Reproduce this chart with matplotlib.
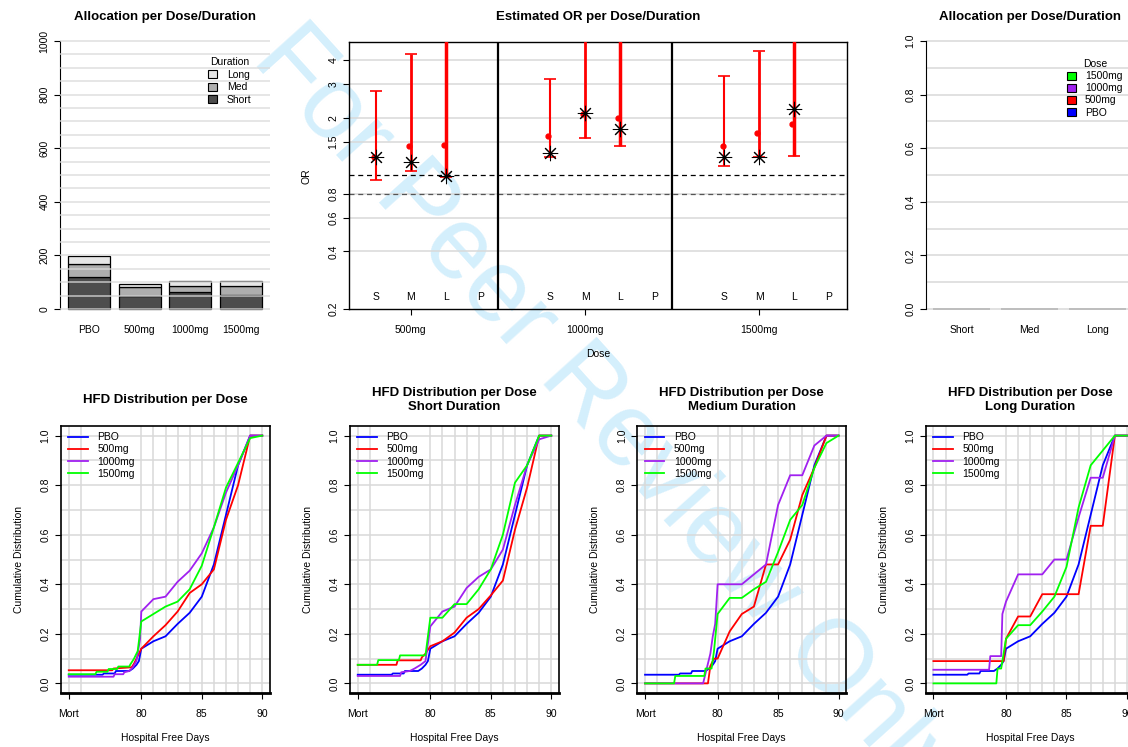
import matplotlib
matplotlib.use("Agg")
import matplotlib.pyplot as plt
from matplotlib.patches import Patch
from matplotlib.lines import Line2D

plt.rcParams['font.family'] = ['Liberation Sans', 'DejaVu Sans']
plt.rcParams['font.size'] = 7.5

W, H = 1128, 747

# ---- allocation per dose / duration (top left) ----
alloc_doses = ["PBO", "500mg", "1000mg", "1500mg"]
alloc_short = [121, 48, 64, 52]
alloc_med = [46, 33, 23, 32]
alloc_long = [30, 11, 19, 19]
dur_colors = ["#4D4D4D", "#AEAEAE", "#E6E6E6"]

# ---- allocation per duration (top right, all zero) ----
alloc_durations = ["Short", "Med", "Long"]
alloc_dur_values = [0.0, 0.0, 0.0]

# ---- estimated OR ----
or_doses = ["500mg", "1000mg", "1500mg"]
or_durs = ["S", "M", "L", "P"]
or_est = [[1.24, 1.17, 0.99], [1.31, 2.13, 1.75], [1.25, 1.25, 2.22]]
or_mid = [[1.25, 1.43, 1.44], [1.60, 2.10, 2.00], [1.43, 1.67, 1.86]]
or_lo = [[0.94, 1.06, 0.98], [1.25, 1.56, 1.42], [1.12, 1.25, 1.26]]
or_hi = [[2.77, 4.32, 8.0], [3.18, 8.0, 8.0], [3.30, 4.46, 8.0]]
or_lw = [1.5, 2.0, 2.5]

# ---- HFD cumulative distributions ----
dose_names = ["PBO", "500mg", "1000mg", "1500mg"]
dose_colors = ["#0000FF", "#FF0000", "#A020F0", "#00FF00"]

pbo_x = [74, 76.8, 76.9, 77.8, 77.9, 79.0, 79.3, 79.6, 79.8, 80, 81, 82, 83, 84, 85, 86, 87, 88, 89, 90]
pbo_y = [0.035, 0.035, 0.04, 0.04, 0.05, 0.05, 0.06, 0.075, 0.09, 0.14, 0.17, 0.19, 0.24, 0.285, 0.35, 0.48, 0.68, 0.88, 1.0, 1.0]

all_500_x = [74, 77.6, 77.7, 79.2, 79.4, 79.7, 80, 81, 82, 83, 84, 85, 86, 87, 88, 89, 90]
all_500_y = [0.053, 0.053, 0.06, 0.065, 0.08, 0.11, 0.14, 0.19, 0.235, 0.29, 0.365, 0.40, 0.46, 0.66, 0.80, 1.0, 1.0]
all_1000_x = [74, 77.7, 77.8, 78.5, 78.6, 79.0, 79.3, 79.6, 79.9, 80, 81, 82, 83, 84, 85, 86, 87, 88, 89, 90]
all_1000_y = [0.027, 0.027, 0.037, 0.037, 0.045, 0.05, 0.065, 0.09, 0.18, 0.29, 0.34, 0.35, 0.41, 0.455, 0.525, 0.63, 0.77, 0.88, 1.0, 1.0]
all_1500_x = [74, 76.2, 76.3, 77.2, 77.3, 78.0, 78.1, 79.0, 79.1, 79.4, 79.7, 80, 81, 82, 83, 84, 85, 86, 87, 88, 89, 90]
all_1500_y = [0.037, 0.037, 0.047, 0.047, 0.058, 0.058, 0.068, 0.068, 0.077, 0.10, 0.13, 0.25, 0.28, 0.31, 0.33, 0.38, 0.475, 0.63, 0.79, 0.89, 0.99, 1.0]

short_500_x = [74, 77.2, 77.3, 79.2, 79.3, 79.6, 80, 81, 82, 83, 84, 85, 86, 87, 88, 89, 90]
short_500_y = [0.075, 0.075, 0.093, 0.093, 0.105, 0.12, 0.15, 0.17, 0.205, 0.265, 0.30, 0.355, 0.415, 0.62, 0.79, 1.0, 1.0]
short_1000_x = [74, 77.5, 77.6, 78.3, 78.7, 79.2, 79.6, 80, 81, 82, 83, 84, 85, 86, 87, 88, 89, 90]
short_1000_y = [0.03, 0.03, 0.045, 0.05, 0.06, 0.075, 0.09, 0.23, 0.29, 0.31, 0.385, 0.43, 0.46, 0.54, 0.72, 0.88, 0.985, 1.0]
short_1500_x = [74, 75.6, 75.7, 77.4, 77.5, 79.6, 80, 81, 82, 83, 84, 85, 86, 87, 88, 89, 90]
short_1500_y = [0.075, 0.075, 0.094, 0.094, 0.113, 0.113, 0.265, 0.265, 0.32, 0.32, 0.38, 0.46, 0.60, 0.81, 0.88, 1.0, 1.0]

med_500_x = [74, 79.2, 79.4, 79.7, 80, 81, 82, 83, 84, 85, 86, 87, 88, 89, 90]
med_500_y = [0, 0, 0.07, 0.10, 0.10, 0.21, 0.28, 0.31, 0.48, 0.48, 0.58, 0.76, 0.87, 1.0, 1.0]
med_1000_x = [74, 78.8, 79.0, 79.2, 79.4, 79.6, 79.8, 80, 81, 82, 83, 84, 85, 86, 87, 88, 89, 90]
med_1000_y = [0, 0, 0.04, 0.08, 0.12, 0.19, 0.24, 0.40, 0.40, 0.40, 0.44, 0.48, 0.72, 0.84, 0.84, 0.96, 1.0, 1.0]
med_1500_x = [74, 76.4, 76.5, 78.9, 79.0, 79.5, 79.7, 80, 81, 82, 83, 84, 85, 86, 87, 88, 89, 90]
med_1500_y = [0, 0, 0.03, 0.03, 0.06, 0.06, 0.13, 0.28, 0.345, 0.345, 0.38, 0.41, 0.53, 0.66, 0.72, 0.87, 0.97, 1.0]

long_500_x = [74, 79.8, 80, 81, 82, 83, 84, 85, 86, 87, 88, 89, 90]
long_500_y = [0.09, 0.09, 0.18, 0.27, 0.27, 0.36, 0.36, 0.36, 0.36, 0.636, 0.636, 1.0, 1.0]
long_1000_x = [74, 78.6, 78.7, 79.6, 79.7, 80, 81, 82, 83, 84, 85, 86, 87, 88, 89, 90]
long_1000_y = [0.055, 0.055, 0.11, 0.11, 0.28, 0.33, 0.44, 0.44, 0.44, 0.5, 0.5, 0.67, 0.83, 0.83, 1.0, 1.0]
long_1500_x = [74, 79.2, 79.3, 79.6, 80, 81, 82, 83, 84, 85, 86, 87, 88, 89, 90]
long_1500_y = [0, 0, 0.06, 0.06, 0.18, 0.235, 0.235, 0.29, 0.35, 0.47, 0.71, 0.88, 0.94, 1.0, 1.0]

hfd_titles = ["HFD Distribution per Dose",
              "HFD Distribution per Dose\nShort Duration",
              "HFD Distribution per Dose\nMedium Duration",
              "HFD Distribution per Dose\nLong Duration"]
hfd_curves = [
    [(pbo_x, pbo_y), (all_500_x, all_500_y), (all_1000_x, all_1000_y), (all_1500_x, all_1500_y)],
    [(pbo_x, pbo_y), (short_500_x, short_500_y), (short_1000_x, short_1000_y), (short_1500_x, short_1500_y)],
    [(pbo_x, pbo_y), (med_500_x, med_500_y), (med_1000_x, med_1000_y), (med_1500_x, med_1500_y)],
    [(pbo_x, pbo_y), (long_500_x, long_500_y), (long_1000_x, long_1000_y), (long_1500_x, long_1500_y)],
]
hfd_ticks = [74, 80, 85, 90]
hfd_ticklabels = ["Mort", "80", "85", "90"]
hfd_vgrid = [74, 75, 80, 81, 82, 83, 84, 85, 86, 87, 88, 89, 90]

GRID = "#D9D9D9"


def frame(l, t, r, b):
    return [l / W, 1 - b / H, (r - l) / W, (b - t) / H]


def fig_text(x, y, s, **kw):
    fig.text(x / W, 1 - y / H, s, ha="center", va="center", **kw)


def r_ticks(ax):
    ax.tick_params(direction="out", length=4.5, width=0.8, pad=3, colors="black")
    ax.tick_params(axis="y", labelrotation=90)
    for lab in ax.get_yticklabels():
        lab.set_va("center")


fig = plt.figure(figsize=(W / 100, H / 100), dpi=100)
# reviewer watermark, behind everything
fig_text(606, 416, "For Peer Review Only", fontsize=74, color="#D4EFFC",
         rotation=-48, rotation_mode="anchor", zorder=-5)

# ---------------- top left: stacked bars ----------------
ax = fig.add_axes(frame(60, 30.3, 270, 319.7))
ax.patch.set_alpha(0)
xs = [0.7 + 1.2 * i for i in range(len(alloc_doses))]
bottom_med = alloc_short
bottom_long = [a + b for a, b in zip(alloc_short, alloc_med)]
ax.bar(xs, alloc_short, width=1, color=dur_colors[0], edgecolor="black", linewidth=0.9, zorder=2)
ax.bar(xs, alloc_med, width=1, bottom=bottom_med, color=dur_colors[1], edgecolor="black", linewidth=0.9, zorder=2)
ax.bar(xs, alloc_long, width=1, bottom=bottom_long, color=dur_colors[2], edgecolor="black", linewidth=0.9, zorder=2)
for g in range(0, 1001, 50):
    ax.axhline(g, color=GRID, lw=1.1, zorder=3, alpha=0.85)
ax.set_xlim(0.016, 4.984)
ax.set_ylim(-40, 1040)
for s in ["top", "right", "bottom"]:
    ax.spines[s].set_visible(False)
ax.spines["left"].set_bounds(0, 1000)
ax.set_yticks(range(0, 1001, 200))
ax.set_xticks(xs)
ax.set_xticklabels(alloc_doses)
r_ticks(ax)
ax.tick_params(axis="x", length=0, pad=4)
ax.legend(handles=[Patch(facecolor=dur_colors[2], edgecolor="black", lw=0.8, label="Long"),
                   Patch(facecolor=dur_colors[1], edgecolor="black", lw=0.8, label="Med"),
                   Patch(facecolor=dur_colors[0], edgecolor="black", lw=0.8, label="Short")],
          title="Duration", frameon=False, loc="upper left",
          bbox_to_anchor=(203 / W, 1 - 52 / H), bbox_transform=fig.transFigure,
          handlelength=0.8, handleheight=0.8, handletextpad=1.0, labelspacing=0.25,
          borderpad=0, fontsize=7.5, title_fontsize=7.5)
fig_text(165, 17, "Allocation per Dose/Duration", fontweight="bold", fontsize=9.5)

# ---------------- top middle: OR ----------------
ax = fig.add_axes(frame(349, 41.7, 847, 309))
ax.patch.set_alpha(0)
ax.set_yscale("log")
ax.set_xlim(0.225, 14.52)
ax.set_ylim(0.2, 5)
for g in [0.4, 0.6, 0.8, 1.5, 2, 3, 4]:
    ax.axhline(g, color=GRID, lw=1.1, zorder=1)
ax.axhline(1.0, color="black", lw=0.9, ls=(0, (4, 3)), zorder=2)
ax.axhline(0.8, color="#555555", lw=0.9, ls=(0, (4, 3)), zorder=2)
ax.axvline(4.5, color="black", lw=1.6, zorder=2)
ax.axvline(9.5, color="black", lw=1.6, zorder=2)
for d in range(len(or_doses)):
    for k in range(3):
        xpos = 1 + 5 * d + k
        ax.errorbar([xpos], [or_est[d][k]],
                    yerr=[[or_est[d][k] - or_lo[d][k]], [or_hi[d][k] - or_est[d][k]]],
                    fmt="none", ecolor="red", elinewidth=or_lw[k], capsize=4.5, capthick=1.2, zorder=3)
        ax.plot([xpos - 0.05], [or_mid[d][k]], "o", color="red", ms=3.5, zorder=4)
        ax.plot([xpos], [or_est[d][k]], marker=(8, 2, 0), color="black", ms=11, mew=0.75, zorder=5)
    for k, lab in enumerate(or_durs):
        ax.text(1 + 5 * d + k, 0.232, lab, ha="center", va="center", fontsize=7.5)
ax.set_yticks([0.2, 0.4, 0.6, 0.8, 1.5, 2, 3, 4])
ax.set_yticklabels(["0.2", "0.4", "0.6", "0.8", "1.5", "2", "3", "4"])
ax.minorticks_off()
ax.set_xticks([2 + 5 * d for d in range(len(or_doses))])
ax.set_xticklabels(or_doses)
r_ticks(ax)
ax.tick_params(axis="x", pad=7)
for s in ax.spines.values():
    s.set_linewidth(1.0)
fig_text(598, 17, "Estimated OR per Dose/Duration", fontweight="bold", fontsize=9.5)
fig_text(598, 354, "Dose")
fig_text(306, 176, "OR", rotation=90)

# ---------------- top right: empty allocation ----------------
ax = fig.add_axes(frame(925.7, 30.3, 1133.9, 319.7))
ax.patch.set_alpha(0)
xs = [0.7 + 1.2 * i for i in range(len(alloc_durations))]
for g in range(11):
    ax.axhline(g / 10, color=GRID, lw=1.1, zorder=1)
ax.bar(xs, alloc_dur_values, width=1, color="#BEBEBE", edgecolor="#BEBEBE", linewidth=1.4, zorder=2)
ax.set_xlim(0.064, 3.736)
ax.set_ylim(-0.04, 1.04)
for s in ["top", "right", "bottom"]:
    ax.spines[s].set_visible(False)
ax.spines["left"].set_bounds(0, 1)
ax.set_yticks([0, 0.2, 0.4, 0.6, 0.8, 1.0])
ax.set_yticklabels(["0.0", "0.2", "0.4", "0.6", "0.8", "1.0"])
ax.set_xticks(xs)
ax.set_xticklabels(alloc_durations)
r_ticks(ax)
ax.tick_params(axis="x", length=0, pad=4)
ax.legend(handles=[Patch(facecolor=c, edgecolor="black", lw=0.8, label=n)
                   for n, c in zip(dose_names[::-1], dose_colors[::-1])],
          title="Dose", frameon=False, loc="upper left",
          bbox_to_anchor=(1062 / W, 1 - 54 / H), bbox_transform=fig.transFigure,
          handlelength=0.8, handleheight=0.8, handletextpad=0.9, labelspacing=0.2,
          borderpad=0, fontsize=7.5, title_fontsize=7.5)
fig_text(1030, 17, "Allocation per Dose/Duration", fontweight="bold", fontsize=9.5)

# ---------------- bottom row: HFD distributions ----------------
lefts = [61, 350, 637.3, 925.7]
for i, left in enumerate(lefts):
    ax = fig.add_axes(frame(left, 425.7, left + 209, 693.3))
    ax.patch.set_alpha(0)
    for g in hfd_vgrid:
        ax.axvline(g, color=GRID, lw=1.1, zorder=1)
    for g in range(11):
        ax.axhline(g / 10, color=GRID, lw=1.1, zorder=1)
    for (cx, cy), c, n in zip(hfd_curves[i], dose_colors, dose_names):
        ax.plot(cx, cy, color=c, lw=1.3, label=n, zorder=3)
    ax.set_xlim(73.36, 90.64)
    ax.set_ylim(-0.04, 1.04)
    ax.set_xticks(hfd_ticks)
    ax.set_xticklabels(hfd_ticklabels)
    ax.set_yticks([0, 0.2, 0.4, 0.6, 0.8, 1.0])
    ax.set_yticklabels(["0.0", "0.2", "0.4", "0.6", "0.8", "1.0"])
    r_ticks(ax)
    ax.tick_params(axis="x", pad=7)
    for s in ax.spines.values():
        s.set_linewidth(1.2)
    ax.spines["bottom"].set_linewidth(2.0)
    ax.legend(handles=[Line2D([], [], color=c, lw=1.3, label=n) for c, n in zip(dose_colors, dose_names)],
              frameon=False, loc="upper left", bbox_to_anchor=(0.035, 0.975),
              handlelength=1.9, handletextpad=0.9, labelspacing=0.2, borderpad=0,
              borderaxespad=0, fontsize=7.5)
    ax.set_xlabel("Hospital Free Days", labelpad=10)
    ax.set_ylabel("Cumulative Distribution", labelpad=12)
    fig_text(left + 104.5, 400, hfd_titles[i], fontweight="bold", fontsize=9.5, linespacing=1.2)

fig.savefig("out.png", dpi=100)
